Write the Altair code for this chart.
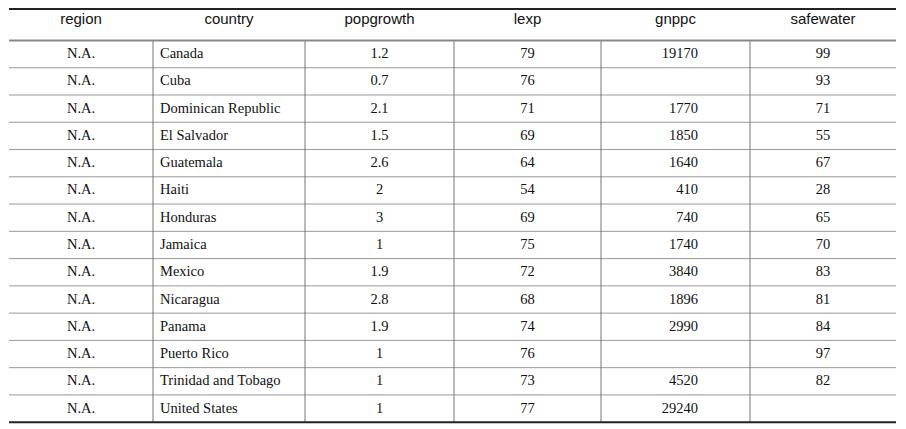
import altair as alt
import pandas as pd

columns = ["region", "country", "popgrowth", "lexp", "gnppc", "safewater"]
region = ["N.A."] * 14
country = ["Canada", "Cuba", "Dominican Republic", "El Salvador", "Guatemala", "Haiti",
           "Honduras", "Jamaica", "Mexico", "Nicaragua", "Panama", "Puerto Rico",
           "Trinidad and Tobago", "United States"]
popgrowth = ["1.2", "0.7", "2.1", "1.5", "2.6", "2", "3", "1", "1.9", "2.8", "1.9", "1", "1", "1"]
lexp = ["79", "76", "71", "69", "64", "54", "69", "75", "72", "68", "74", "76", "73", "77"]
gnppc = ["19170", "", "1770", "1850", "1640", "410", "740", "1740", "3840", "1896", "2990", "", "4520", "29240"]
safewater = ["99", "93", "71", "55", "67", "28", "65", "70", "83", "81", "84", "97", "82", ""]

# layout (page pixels -> plot coords)
EDGES = [1, 145, 297, 446, 593, 742, 888]
MID = [(a + b) / 2 for a, b in zip(EDGES[:-1], EDGES[1:])]
N = len(country)

X = alt.Scale(domain=[0, 890], range=[0, 890], nice=False, zero=False)
Y = alt.Scale(domain=[-0.691, 14.566], range=[0, 416], nice=False, zero=False)

rows = []
for i in range(N):
    vals = [region[i], country[i], popgrowth[i], lexp[i], gnppc[i], safewater[i]]
    for j, v in enumerate(vals):
        if v == "":
            continue
        if j == 1:
            x, al = EDGES[1] + 7, "left"
        elif j == 4:
            x, al = EDGES[4] + 97, "right"
        else:
            x, al = MID[j], "center"
        rows.append({"x": x, "k": i + 1, "t": v, "align": al})
body = pd.DataFrame(rows)

head = pd.DataFrame({"x": MID, "k": [-0.27] * 6, "t": columns})

base_txt = dict(baseline="middle", color="#111")
parts = []
for al in ["left", "center", "right"]:
    sub = body[body["align"] == al]
    parts.append(alt.Chart(sub).mark_text(align=al, font="Liberation Serif", fontSize=14.5, **base_txt)
                 .encode(x=alt.X("x:Q", scale=X, axis=None), y=alt.Y("k:Q", scale=Y, axis=None), text="t:N"))

header = alt.Chart(head).mark_text(align="center", font="Liberation Sans", fontSize=15, **base_txt).encode(
    x=alt.X("x:Q", scale=X, axis=None), y=alt.Y("k:Q", scale=Y, axis=None), text="t:N")

hl = pd.DataFrame({"k": [i + 0.5 for i in range(1, N)]})
hlines = alt.Chart(hl).mark_rule(color="#999", strokeWidth=1).encode(
    x=alt.value(EDGES[0]), x2=alt.value(EDGES[-1]), y=alt.Y("k:Q", scale=Y, axis=None))

thick = pd.DataFrame({"k": [-0.65, 14.5]})
tlines = alt.Chart(thick).mark_rule(color="#222", strokeWidth=2).encode(
    x=alt.value(EDGES[0]), x2=alt.value(EDGES[-1]), y=alt.Y("k:Q", scale=Y, axis=None))

hdr = pd.DataFrame({"k": [0.5]})
hdrline = alt.Chart(hdr).mark_rule(color="#888", strokeWidth=2).encode(
    x=alt.value(EDGES[0]), x2=alt.value(EDGES[-1]), y=alt.Y("k:Q", scale=Y, axis=None))

vl = pd.DataFrame({"x": EDGES[1:-1], "k0": [0.5] * 5, "k1": [14.5] * 5})
vlines = alt.Chart(vl).mark_rule(color="#777", strokeWidth=1).encode(
    x=alt.X("x:Q", scale=X, axis=None), y=alt.Y("k0:Q", scale=Y, axis=None), y2="k1:Q")

chart = alt.layer(hlines, vlines, hdrline, tlines, header, *parts).properties(
    width=890, height=416, background="white", padding=0, autosize="none"
).configure_view(strokeWidth=0)

chart.save("out.html", embed_options={"renderer": "svg", "actions": False})
